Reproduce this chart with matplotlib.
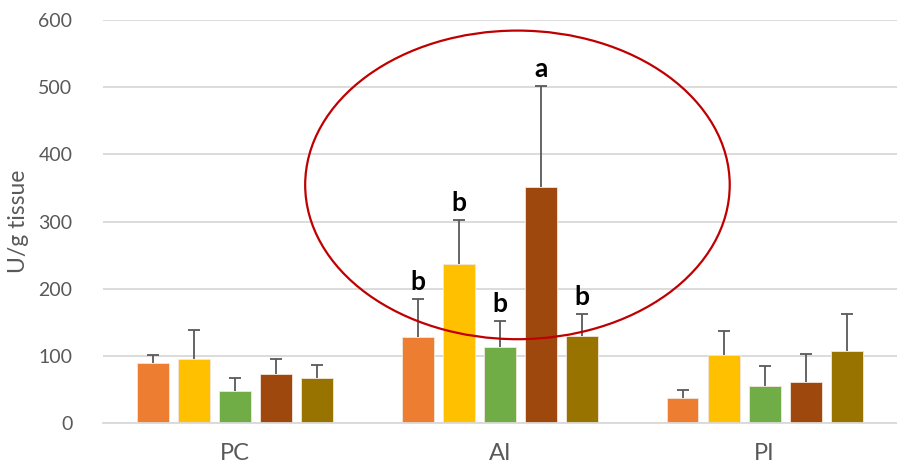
import numpy as np
import matplotlib.pyplot as plt
from matplotlib.patches import Ellipse

plt.rcParams['font.family'] = ['Lato', 'DejaVu Sans']

groups = ['PC', 'AI', 'PI']
colors = ['#ED7D31', '#FFC000', '#70AD47', '#9E480E', '#997300']

# mean values per treatment (5 series) for each group
means = [
    [90, 128, 38],
    [96, 237, 101],
    [48, 114, 56],
    [74, 351, 62],
    [68, 130, 108],
]
# upper error (SD)
errs = [
    [11, 57, 12],
    [43, 66, 36],
    [20, 38, 29],
    [22, 150, 41],
    [18, 33, 54],
]
# significance letters for AI group
letters = ['b', 'b', 'b', 'a', 'b']

fs = 14
fig = plt.figure(figsize=(8.97, 4.76), dpi=100)
ax = fig.add_axes([0.1148, 0.1107, 0.8852, 0.8475])

x = np.arange(len(groups))
step = 0.155
width = 0.12

for i in range(5):
    pos = x + (i - 2) * step
    m = np.array(means[i])
    e = np.array(errs[i])
    ax.bar(pos, m, width, color=colors[i], edgecolor='#f2e6dc', linewidth=0.6, zorder=2)
    eb = ax.errorbar(pos, m, yerr=[np.zeros_like(e), e], fmt='none', ecolor='#595959',
                     elinewidth=1.3, capsize=4.5, capthick=1.3, zorder=3)
    # only the upper cap is wanted
    eb[1][0].set_visible(False)
    # letter above the AI bar
    ax.annotate(letters[i], (pos[1], m[1] + e[1]), xytext=(0, 6.5), textcoords='offset points',
                ha='center', va='baseline', fontsize=19, fontweight='bold', color='black', zorder=4)

ax.set_xlim(-0.5, 2.5)
ax.set_ylim(0, 600)
ax.set_yticks(range(0, 601, 100))
ax.set_xticks(x)
ax.set_xticklabels(groups, fontsize=17, color='#595959')
ax.tick_params(axis='y', labelsize=fs, labelcolor='#595959', length=0, pad=22)
ax.tick_params(axis='x', length=0, pad=14)
ax.set_ylabel('U/g tissue', fontsize=16.5, color='#595959', labelpad=7)
ax.grid(axis='y', color='#D9D9D9', linewidth=1.3, zorder=0)
ax.set_axisbelow(True)
for s in ['top', 'right', 'left']:
    ax.spines[s].set_visible(False)
ax.spines['bottom'].set_color('#D9D9D9')
ax.spines['bottom'].set_linewidth(1.3)

# highlight ring round the AI group
ell = Ellipse((1.066, 354.6), 1.604, 459, fill=False, edgecolor='#C00000', linewidth=1.6,
              clip_on=False, zorder=5)
ax.add_patch(ell)

fig.savefig('out.png', dpi=100)
